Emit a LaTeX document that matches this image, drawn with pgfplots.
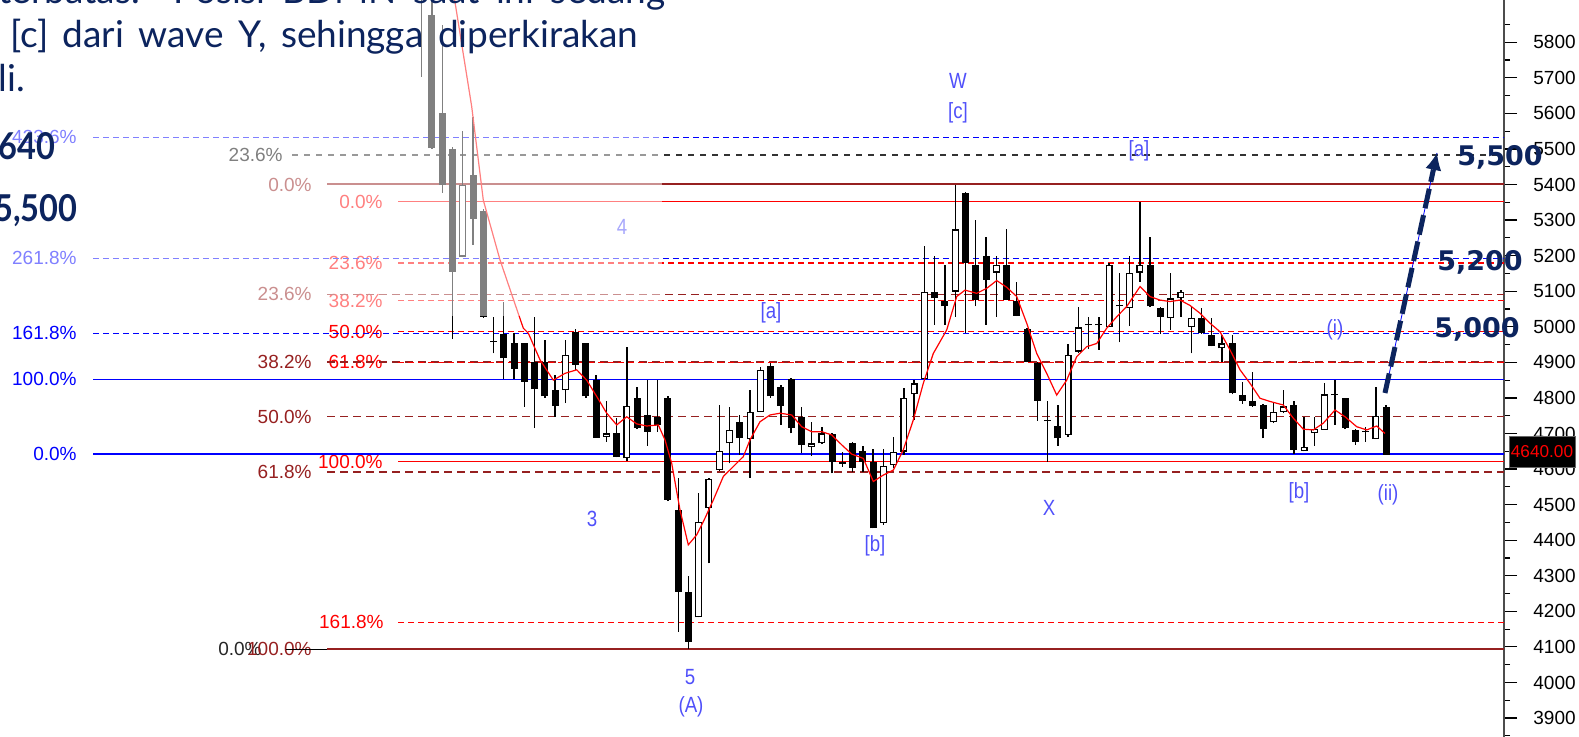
\documentclass[border=0pt]{standalone}
\usepackage{pgfplots}
\pgfplotsset{compat=1.18}
\usepackage{pgfplotstable}
\usetikzlibrary{arrows.meta}
\usepackage{fontspec}
\setmainfont{Liberation Sans}
\newfontfamily\lato{Lato}
\newfontfamily\djv{DejaVu Sans}

\definecolor{navy}{RGB}{12,36,94}
\definecolor{fibblue}{RGB}{0,0,255}
\definecolor{fibdred}{RGB}{150,32,32}
\definecolor{fibred}{RGB}{255,0,0}
\definecolor{wave}{RGB}{80,80,250}

\newcommand{\fibfont}{\fontsize{9.5}{10}\selectfont}
\newcommand{\fl}[4]{\node[anchor=east, inner sep=0pt, text=#1, font=\fibfont] at (axis cs:#2,#3) {#4};}
\newcommand{\wl}[3]{\node[inner sep=0pt, text=wave, font=\fontsize{11}{12}\selectfont] at (axis cs:#1,#2) {\scalebox{0.85}[1]{#3}};}

% candles: k = bar index, x pixel = 421.7 + 10.26 k
\pgfplotstableread{
k o h l c
0 6010 6050 5703 5960
1 5877 5940 5500 5502
2 5600 5848 5377 5399
3 5500 5505 4965 5155
5 5428 5591 5230 5303
6 5326 5330 5025 5028
7 4960 5028 4925 4957
8 4981 5071 4853 4911
9 4953 4982 4853 4881
10 4953 4955 4775 4846
11 4902 5028 4715 4824
12 4902 4963 4800 4804
13 4822 4864 4747 4777
15 4986 4995 4879 4893
16 4953 4955 4800 4804
17 4850 4864 4688 4688
19 4700 4743 4633 4635
21 4801 4832 4712 4715
22 4752 4850 4665 4705
23 4747 4850 4705 4724
24 4801 4805 4510 4513
25 4485 4574 4143 4255
26 4253 4298 4095 4115
31 4731 4752 4640 4688
34 4891 4897 4800 4804
35 4832 4835 4724 4777
36 4852 4855 4700 4715
37 4745 4775 4644 4668
40 4699 4702 4588 4621
41 4617 4649 4607 4615
42 4672 4675 4593 4604
43 4651 4665 4593 4621
44 4621 4656 4433 4433
50 5099 5199 5005 5080
51 5073 5174 5005 5057
53 5375 5378 4983 5178
54 5174 5300 5057 5075
55 5199 5253 5005 5132
57 5174 5275 5075 5075
58 5073 5127 5030 5031
59 4994 4996 4900 4900
60 4897 4900 4736 4792
61 4737 4790 4621 4735
62 4721 4780 4665 4686
65 5006 5028 4938 5004
68 5059 5150 4956 5057
71 5174 5253 5055 5057
72 5052 5055 4979 5028
76 5024 5052 4980 4982
77 4977 5024 4945 4946
79 4953 4977 4810 4813
80 4808 4846 4783 4792
81 4790 4874 4775 4777
82 4780 4782 4686 4712
85 4780 4790 4642 4654
89 4809 4850 4724 4807
90 4799 4800 4712 4715
91 4710 4712 4668 4677
92 4706 4719 4677 4704
94 4775 4780 4640 4640
}\bear

\pgfplotstableread{
k o h l c
4 5197 5549 5195 5399
14 4822 4963 4785 4921
18 4691 4790 4677 4700
20 4630 4944 4623 4777
27 4183 4532 4183 4452
28 4490 4575 4335 4572
29 4597 4780 4595 4652
30 4672 4774 4616 4710
32 4684 4822 4576 4761
33 4761 4888 4760 4879
38 4663 4731 4637 4672
39 4672 4719 4670 4700
45 4449 4656 4443 4609
46 4611 4691 4602 4649
47 4649 4827 4640 4799
48 4810 4850 4738 4841
49 4852 5227 4850 5099
52 5099 5399 5028 5274
56 5152 5199 5028 5174
63 4696 4952 4690 4921
64 4930 5055 4925 4998
66 5004 5028 4935 5006
67 5000 5178 4998 5174
69 5052 5199 5002 5152
70 5152 5352 5127 5174
73 5024 5152 4991 5080
74 5080 5102 5028 5099
75 5000 5057 4925 5024
78 4939 4977 4900 4953
83 4731 4785 4729 4761
84 4761 4822 4757 4776
86 4651 4747 4650 4663
87 4701 4747 4665 4712
88 4710 4843 4710 4810
93 4684 4832 4684 4750
}\bull

% red moving average, x in pixels
\pgfplotstableread{
x v
452 5965
456 5895
471.7 5619
483.3 5356
500 5188
513.3 5078
523.3 4996
528.3 4982
540 4907
553.3 4850
565 4869
576.7 4879
586.7 4850
596.7 4804
606.7 4757
616.7 4724
626.7 4747
636.7 4727
646.7 4721
658.3 4724
665 4682
671.7 4616
680 4485
688.3 4387
696.7 4415
705 4462
713.3 4513
723.3 4579
733.3 4607
743.3 4635
750 4682
760 4733
770 4752
780 4757
791.7 4752
801.7 4719
811.7 4705
821.7 4705
831.7 4696
841.7 4668
851.7 4642
863.3 4630
873.3 4565
883.3 4583
893.3 4597
903.3 4654
913.3 4738
923.3 4841
933.3 4925
946.7 4991
956.7 5085
965 5103
976.7 5094
986.7 5108
996.7 5130
1006.7 5111
1016.7 5085
1026.7 5010
1036.7 4925
1046.7 4869
1056.7 4808
1066.7 4850
1076.7 4916
1086.7 4944
1096.7 4953
1106.7 4996
1116.7 5028
1126.7 5057
1140 5113
1150 5085
1160 5075
1170 5071
1180 5075
1190 5060
1200 5038
1210 5010
1220 4986
1230 4935
1240 4879
1250 4841
1260 4799
1270 4790
1283.3 4780
1293.3 4743
1303.3 4712
1313.3 4710
1323.3 4729
1335 4766
1345 4747
1356.7 4719
1366.7 4710
1376.7 4721
1385 4700
}\ma

\begin{document}
\begin{tikzpicture}
\begin{axis}[
    at={(0pt,0pt)}, anchor=south west,
    scale only axis,
    width=752pt, height=368.5pt,
    xmin=0, xmax=1504,
    ymin=3846.7, ymax=5918.7,
    axis x line=none,
    axis y line=right,
    y axis line style={-, line width=1.1pt, draw=black!70},
    ytick={3900,4000,...,5800},
    minor ytick={3850,3950,...,5850},
    tick align=outside,
    major tick length=6.5pt,
    minor tick length=3pt,
    every tick/.style={black, line width=0.6pt},
    yticklabel style={font=\fontsize{9.5}{10}\selectfont, anchor=west, inner sep=0pt, xshift=8pt},
    /pgf/number format/assume math mode=true,
    /pgf/number format/set thousands separator={},
    fibdash/.style={line width=0.65pt, dash pattern=on 3pt off 2pt},
    fibsolid/.style={line width=0.8pt},
    wick/.style={draw=none, mark=none, forget plot,
        error bars/.cd, y dir=plus, y explicit, error mark=none,
        error bar style={draw=black, line width=0.7pt, solid}},
    body/.style={draw=none, mark=none, forget plot,
        error bars/.cd, y dir=plus, y explicit, error mark=none,
        error bar style={draw=#1, line width=3.5pt, solid}},
    inner/.style={draw=none, mark=none, forget plot,
        error bars/.cd, y dir=plus, y explicit, error mark=none,
        error bar style={draw=white, line width=2.3pt, solid}},
]
% level labels
\fl{fibblue}{77}{5533}{423.6\%}
\fl{fibblue}{77}{5192.6}{261.8\%}
\fl{fibblue}{77}{4982}{161.8\%}
\fl{fibblue}{77}{4852}{100.0\%}
\fl{fibblue}{77}{4641.5}{0.0\%}
\fl{black}{283}{5483}{23.6\%}
\fl{black!85}{262}{4093}{0.0\%}
\fl{fibdred}{312}{5400}{0.0\%}
\fl{fibdred}{312}{5091.5}{23.6\%}
\fl{fibdred}{312}{4901}{38.2\%}
\fl{fibdred}{312}{4747}{50.0\%}
\fl{fibdred}{312}{4592}{61.8\%}
\fl{fibdred}{312}{4093}{100.0\%}
\fl{fibred}{383}{5352}{0.0\%}
\fl{fibred}{383}{5179.5}{23.6\%}
\fl{fibred}{383}{5073}{38.2\%}
\fl{fibred}{383}{4986.5}{50.0\%}
\fl{fibred}{383}{4900}{61.8\%}
\fl{fibred}{383}{4621}{100.0\%}
\fl{fibred}{384}{4169}{161.8\%}

% fibonacci levels
\addplot[fibblue, fibdash] coordinates {(93,5533)(1504,5533)};
\addplot[fibblue, fibdash] coordinates {(93,5192.6)(1504,5192.6)};
\addplot[fibblue, fibdash] coordinates {(93,4982)(1504,4982)};
\addplot[fibblue, fibsolid] coordinates {(93,4852)(1504,4852)};
\addplot[fibblue, fibsolid] coordinates {(93,4641.5)(1504,4641.5)};
\addplot[black!80, line width=0.65pt, dash pattern=on 3pt off 3pt] coordinates {(292,5483)(1504,5483)};
\addplot[black, fibsolid] coordinates {(286,4093)(1504,4093)};
\addplot[fibdred, line width=1pt] coordinates {(327,5400)(1504,5400)};
\addplot[fibdred, line width=0.65pt, dash pattern=on 4pt off 2.5pt] coordinates {(327,5091.5)(1504,5091.5)};
\addplot[fibdred, line width=0.65pt, dash pattern=on 4pt off 2.5pt] coordinates {(327,4901)(1504,4901)};
\addplot[fibdred, line width=0.65pt, dash pattern=on 4pt off 2.5pt] coordinates {(327,4747)(1504,4747)};
\addplot[fibdred, line width=0.65pt, dash pattern=on 4pt off 2.5pt] coordinates {(327,4592)(1504,4592)};
\addplot[fibdred, line width=1pt] coordinates {(327,4093)(1504,4093)};
\addplot[fibred, fibsolid] coordinates {(398,5352)(1504,5352)};
\addplot[fibred, fibdash] coordinates {(398,5179.5)(1504,5179.5)};
\addplot[fibred, fibdash] coordinates {(398,5073)(1504,5073)};
\addplot[fibred, fibdash] coordinates {(398,4986.5)(1504,4986.5)};
\addplot[fibred, fibdash] coordinates {(398,4900)(1504,4900)};
\addplot[fibred, fibsolid] coordinates {(398,4621)(1504,4621)};
\addplot[fibred, fibdash] coordinates {(398,4169)(1504,4169)};

% candles
\addplot[wick] table[x expr=421.7+10.26*\thisrow{k}, y=l, y error plus expr=\thisrow{h}-\thisrow{l}] {\bear};
\addplot[wick] table[x expr=421.7+10.26*\thisrow{k}, y=l, y error plus expr=\thisrow{h}-\thisrow{l}] {\bull};
\addplot[body=black] table[x expr=421.7+10.26*\thisrow{k}, y=c, y error plus expr={max(\thisrow{o}-\thisrow{c},4)}] {\bear};
\addplot[body=black] table[x expr=421.7+10.26*\thisrow{k}, y=o, y error plus expr={max(\thisrow{c}-\thisrow{o},4)}] {\bull};
\addplot[inner] table[x expr=421.7+10.26*\thisrow{k}, y expr=\thisrow{o}+3.4, y error plus expr={max(\thisrow{c}-\thisrow{o}-6.8,0)}] {\bull};

% moving average
\addplot[fibred, line width=0.6pt] table[x=x, y=v] {\ma};

% wave labels
\wl{958}{5691}{W}
\wl{958}{5601}{[c]}
\wl{1139}{5494}{[a]}
\wl{622}{5281}{4}
\wl{771}{5039}{[a]}
\wl{1335}{4991}{(i)}
\wl{592}{4460}{3}
\wl{1049}{4491}{X}
\wl{875}{4384}{[b]}
\wl{1299}{4533}{[b]}
\wl{1388}{4527}{(ii)}
\wl{690}{4015}{5}
\wl{691}{3931}{(A)}
\end{axis}

% washed-out text box of the slide
\fill[white, fill opacity=0.5] (0pt,210.5pt) rectangle (331pt,368.5pt);

\begin{scope}[every node/.style={inner sep=0pt, text=navy}]
\node[anchor=base west, font=\lato\fontsize{18.5}{20}\selectfont] at (-1pt,366.5pt) {\makebox[333.5pt][s]{terbatas. Posisi BDMN saat ini sedang}};
\node[anchor=base west, font=\lato\fontsize{18.5}{20}\selectfont] at (5pt,344.5pt) {\makebox[314pt][s]{[c] dari wave Y, sehingga diperkirakan}};
\node[anchor=base west, font=\lato\fontsize{18.5}{20}\selectfont] at (-1pt,322.5pt) {li.};
\node[anchor=base east, font=\lato\bfseries\fontsize{18.5}{20}\selectfont] at (28pt,288.5pt) {\scalebox{0.88}[1]{4,640}};
\node[anchor=base east, font=\lato\bfseries\fontsize{18.5}{20}\selectfont] at (39pt,257.5pt) {\scalebox{0.88}[1]{5,500}};
\node[font=\djv\bfseries\fontsize{13.5}{14}\selectfont] at (750pt,290pt) {5,500};
\node[font=\djv\bfseries\fontsize{13.5}{14}\selectfont] at (740pt,237.5pt) {5,200};
\node[font=\djv\bfseries\fontsize{13.5}{14}\selectfont] at (738.5pt,204pt) {5,000};
\end{scope}

% projected move
\draw[blue, line width=0.4pt] (692.5pt,172pt) -- (718.5pt,292pt);
\draw[navy, line width=2.5pt, dash pattern=on 10pt off 3.5pt] (692.5pt,172pt) -- (716.7pt,283.7pt);
\draw[navy, line width=0.5pt, -{Latex[length=8.5pt,width=8pt]}] (716pt,280.5pt) -- (718.5pt,292pt);

% last price tag
\node[fill=black, draw=black!60, line width=0.4pt, text=red, inner sep=0pt,
      minimum width=33pt, minimum height=15.5pt, font=\fontsize{8.6}{10}\selectfont]
      at (771pt,142.75pt) {4640.00};

\pgfresetboundingbox
\useasboundingbox (0pt,0pt) rectangle (789.5pt,368.5pt);
\end{tikzpicture}
\end{document}
